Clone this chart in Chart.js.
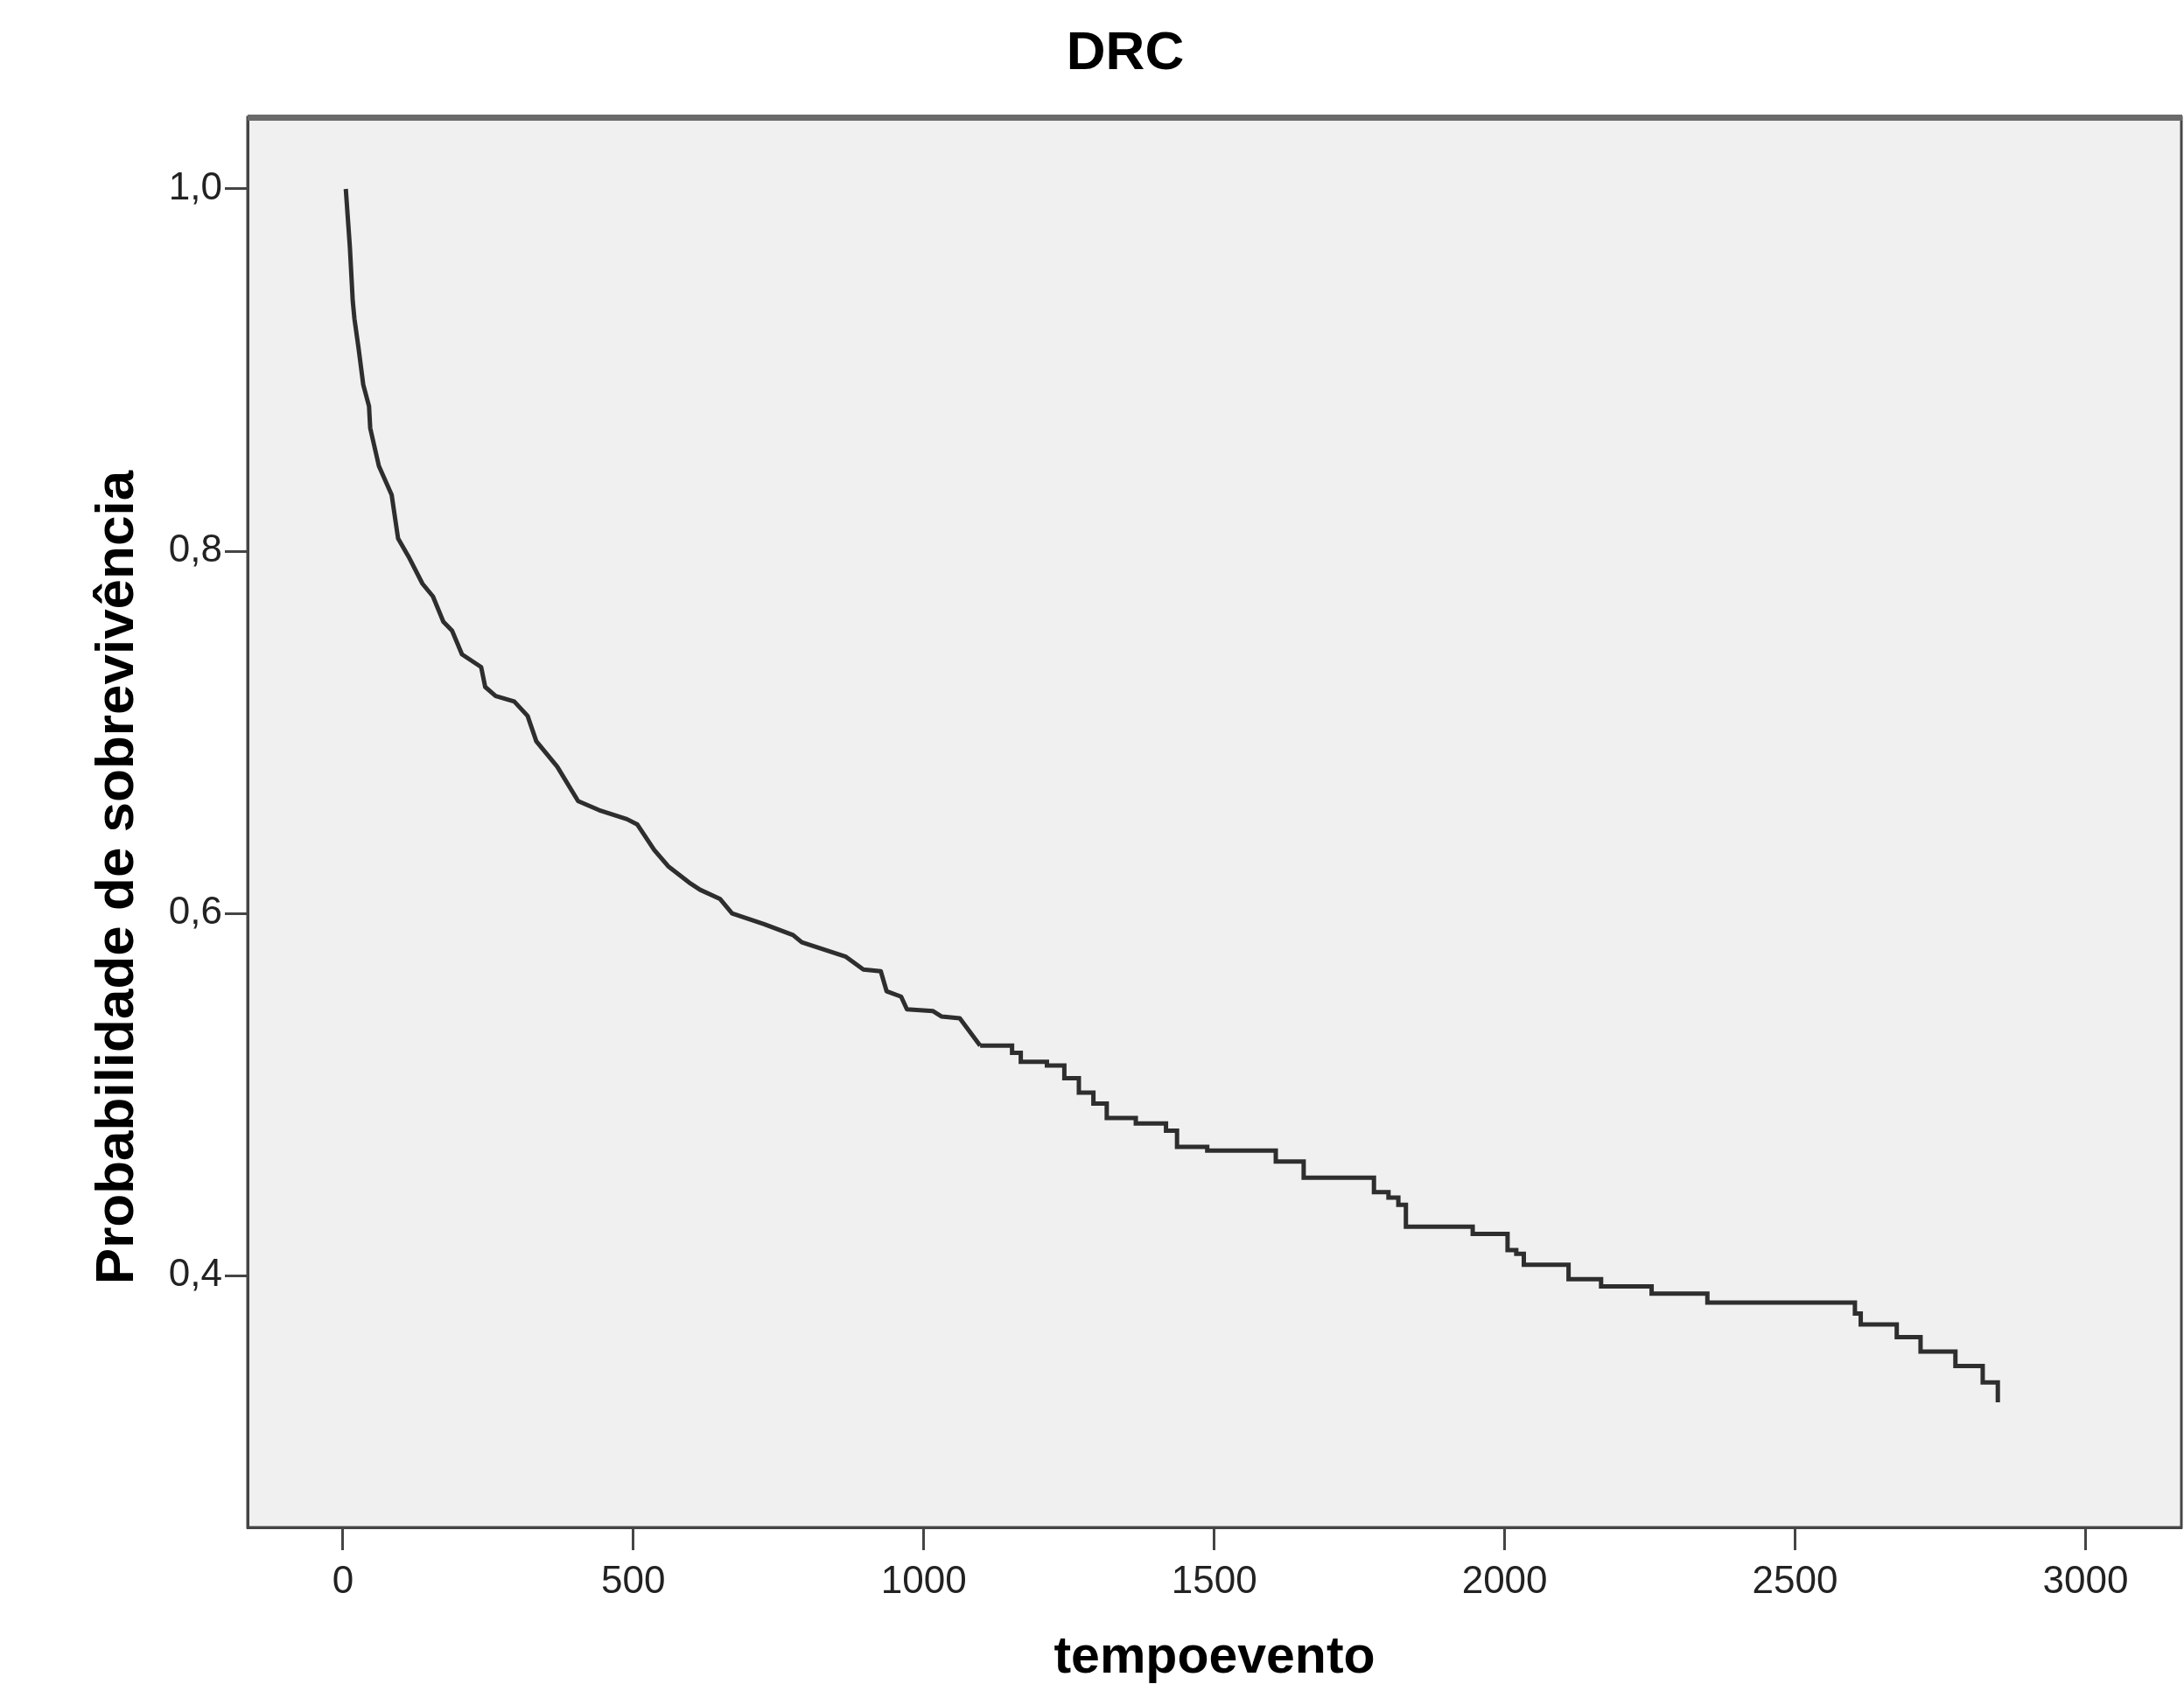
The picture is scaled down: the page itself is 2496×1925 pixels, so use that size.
<!DOCTYPE html>
<html>
<head>
<meta charset="utf-8">
<script src="https://cdn.jsdelivr.net/npm/chart.js@4/dist/chart.umd.min.js"></script>
<style>
  html, body { margin: 0; padding: 0; background: #ffffff; }
  #wrap { width: 2496px; height: 1925px; position: relative; }
  canvas { display: block; }
</style>
</head>
<body>
<div id="wrap"><canvas id="c" width="2496" height="1925"></canvas></div>
<script>
// ---- Data (Kaplan-Meier curve, DRC) ----
const chartTitle = "DRC";
const xTitle = "tempoevento";
const yTitle = "Probabilidade de sobrevivência";

const tempo = [
  5, 12, 17, 20, 27, 35, 45, 47, 62, 84, 95, 113, 137, 155, 173, 188, 205, 238, 245, 263,
  295, 318, 333, 369, 405, 441, 489, 507, 536, 560, 596, 615, 649, 670, 725, 775, 790, 866,
  896, 926, 936, 961, 971, 1016, 1031, 1062, 1097, 1152, 1167, 1212, 1242, 1267, 1292, 1315,
  1365, 1417, 1436, 1488, 1606, 1654, 1775, 1800, 1817, 1830, 1945, 2005, 2020, 2033, 2110,
  2166, 2253, 2349, 2603, 2613, 2675, 2716, 2776, 2823, 2849
];
const sobrevivencia = [
  1.000, 0.968, 0.938, 0.928, 0.912, 0.892, 0.880, 0.868, 0.847, 0.831, 0.807, 0.797, 0.782, 0.775, 0.761, 0.756, 0.743, 0.736, 0.725, 0.720,
  0.717, 0.709, 0.695, 0.681, 0.662, 0.657, 0.652, 0.649, 0.635, 0.626, 0.617, 0.613, 0.608, 0.600, 0.594, 0.588, 0.584, 0.576,
  0.569, 0.568, 0.557, 0.554, 0.547, 0.546, 0.543, 0.542, 0.527, 0.523, 0.518, 0.516, 0.509, 0.501, 0.495, 0.487,
  0.484, 0.480, 0.471, 0.469, 0.463, 0.454, 0.446, 0.443, 0.439, 0.427, 0.423, 0.414, 0.412, 0.406, 0.398,
  0.394, 0.390, 0.385, 0.379, 0.373, 0.366, 0.358, 0.350, 0.341, 0.330
];
const xTicks = [0, 500, 1000, 1500, 2000, 2500, 3000];
const yTicks = [0.4, 0.6, 0.8, 1.0];
// The dense early part of the curve has many tiny steps (drawn as a fine trace);
// after this time the individual steps are clearly visible.
const denseUntil = 1097;

const FONT = "'Liberation Sans', Arial, sans-serif";
const LINE = '#2e2e2e';

const pts = tempo.map((t, i) => ({x: t, y: sobrevivencia[i]}));
const densePts = pts.filter(p => p.x <= denseUntil);
const stepPts = pts.filter(p => p.x >= denseUntil);

const framePlugin = {
  id: 'framePlugin',
  beforeDraw(chart) {
    const {ctx, chartArea: a} = chart;
    ctx.save();
    ctx.fillStyle = '#f0f0f0';
    ctx.fillRect(a.left, a.top, a.right - a.left, a.bottom - a.top);
    ctx.restore();
  },
  afterDraw(chart) {
    const {ctx, chartArea: a} = chart;
    ctx.save();
    ctx.strokeStyle = '#454545';
    ctx.lineWidth = 3;
    ctx.strokeRect(a.left, a.top, a.right - a.left, a.bottom - a.top);
    ctx.fillStyle = '#6a6a6a';
    ctx.fillRect(a.left, a.top - 3, a.right - a.left + 1, 7);
    ctx.fillStyle = '#000000';
    ctx.font = "bold 62px " + FONT;
    ctx.textAlign = 'center';
    ctx.textBaseline = 'middle';
    ctx.fillText(chartTitle, 1286, 62);
    ctx.translate(135, 1003);
    ctx.rotate(-Math.PI / 2);
    ctx.font = "bold 62px " + FONT;
    ctx.fillText(yTitle, 0, 0);
    ctx.restore();
  }
};

new Chart(document.getElementById('c'), {
  type: 'line',
  data: {
    datasets: [{
      label: 'DRC',
      data: densePts,
      stepped: false,
      tension: 0,
      borderColor: LINE,
      borderWidth: 5,
      borderJoinStyle: 'round',
      pointRadius: 0,
      fill: false
    }, {
      label: 'DRC ',
      data: stepPts,
      stepped: true,
      borderColor: LINE,
      borderWidth: 5,
      pointRadius: 0,
      fill: false
    }]
  },
  options: {
    responsive: false,
    animation: false,
    devicePixelRatio: 1,
    layout: { padding: { top: 134, right: 3, left: 0, bottom: 0 } },
    plugins: {
      legend: { display: false },
      title: { display: false },
      tooltip: { enabled: false }
    },
    scales: {
      x: {
        type: 'linear',
        min: -164,
        max: 3165,
        afterFit(scale) { scale.height = 179; },
        afterBuildTicks(scale) { scale.ticks = xTicks.map(v => ({value: v})); },
        ticks: {
          font: { family: FONT, size: 44 },
          color: '#222222',
          padding: 10,
          maxRotation: 0,
          callback: v => String(v)
        },
        grid: { drawOnChartArea: false, drawTicks: true, tickLength: 26, tickWidth: 3, tickColor: '#454545' },
        border: { display: true, color: '#454545', width: 3 },
        title: {
          display: true,
          text: xTitle,
          font: { family: FONT, size: 59, weight: 'bold', lineHeight: 1.0 },
          color: '#000000',
          padding: { top: 0, bottom: 0 }
        }
      },
      y: {
        type: 'linear',
        min: 0.2609,
        max: 1.0396,
        afterFit(scale) { scale.width = 283; },
        afterBuildTicks(scale) { scale.ticks = yTicks.map(v => ({value: v})); },
        ticks: {
          font: { family: FONT, size: 44 },
          color: '#222222',
          padding: 3,
          callback: v => Number(v).toFixed(1).replace('.', ',')
        },
        grid: { drawOnChartArea: false, drawTicks: true, tickLength: 26, tickWidth: 3, tickColor: '#454545' },
        border: { display: true, color: '#454545', width: 3 }
      }
    }
  },
  plugins: [framePlugin]
});
</script>
</body>
</html>
